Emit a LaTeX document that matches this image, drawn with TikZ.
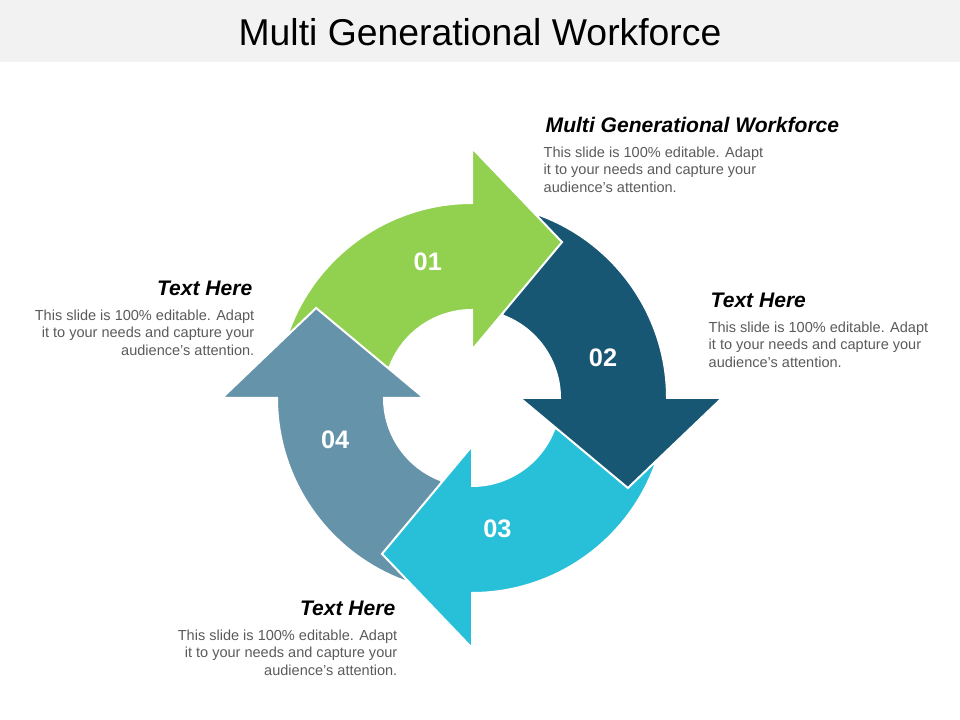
\documentclass[tikz,border=0pt]{standalone}
\usepackage{fontspec}
\setmainfont{Liberation Sans}
\definecolor{SegGreen}{RGB}{146,208,80}
\definecolor{SegDark}{RGB}{23,87,115}
\definecolor{SegCyan}{RGB}{40,191,216}
\definecolor{SegGray}{RGB}{101,148,170}
\definecolor{BodyGray}{RGB}{90,90,90}
\tikzset{
  seg/.style={draw=white, line width=1.5pt, line join=miter},
  num/.style={text=white, font=\fontsize{19}{22}\selectfont\bfseries},
  head/.style={font=\fontsize{15.8}{18}\selectfont\bfseries\itshape},
  body/.style={text=BodyGray, font=\fontsize{10.9}{13.3}\selectfont},
}
% one arrow of the cycle, base angle #1
\newcommand{\cyclearrow}[2]{%
  \path[seg, fill=#2] (#1+70:195) arc[start angle=#1+70, end angle=#1, radius=195]
    -- (#1:250) -- (#1-30:180) -- (#1:48) -- (#1:88)
    arc[start angle=#1, end angle=#1+70, radius=88] -- cycle;}
\begin{document}
\begin{tikzpicture}[x=0.75pt, y=0.75pt]
\useasboundingbox (0,0) rectangle (960,720);
\fill[black!5] (0,658) rectangle (960,720);
\node (title) at (480,688) {\fontsize{28}{32}\selectfont Multi Generational Workforce};
\begin{scope}[shift={(472,322)}]
\cyclearrow{90}{SegGreen}
\cyclearrow{180}{SegGray}
\cyclearrow{270}{SegCyan}
\cyclearrow{0}{SegDark}
\begin{scope}
\clip (0,0) -- (130:320) -- (90:320) -- (40:320) -- cycle;
\cyclearrow{90}{SegGreen}
\end{scope}
\node[num] (n1) at (108:143) {01};
\node[num] (n2) at (17:137) {02};
\node[num] (n3) at (-79:133) {03};
\node[num] (n4) at (-163:143) {04};
\end{scope}
% texts
\node[head, anchor=base west] (h1) at (541,587) {Multi Generational Workforce};
\node[body, anchor=north west, align=left] (b1) at (539,578) {This slide is 100\% editable. Adapt\\it to your needs and capture your\\audience's attention.};
\node[head, anchor=base west] (h2) at (706,412) {Text Here};
\node[body, anchor=north west, align=left] (b2) at (704,403) {This slide is 100\% editable. Adapt\\it to your needs and capture your\\audience's attention.};
\node[head, anchor=base east] (h4) at (257,424) {Text Here};
\node[body, anchor=north east, align=right] (b4) at (259,415) {This slide is 100\% editable. Adapt\\it to your needs and capture your\\audience's attention.};
\node[head, anchor=base east] (h3) at (400,104) {Text Here};
\node[body, anchor=north east, align=right] (b3) at (402,95) {This slide is 100\% editable. Adapt\\it to your needs and capture your\\audience's attention.};
\end{tikzpicture}
\end{document}
